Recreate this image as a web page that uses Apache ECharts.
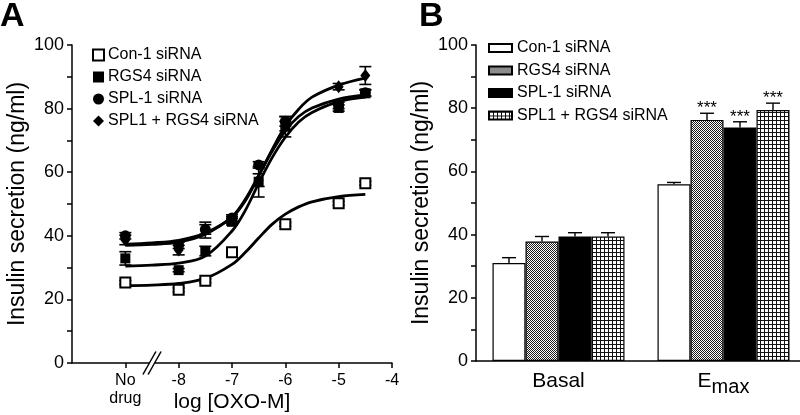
<!DOCTYPE html>
<html><head><meta charset="utf-8">
<script src="https://cdn.jsdelivr.net/npm/echarts@6/dist/echarts.min.js"></script>
<style>html,body{margin:0;padding:0;background:#fff}#c{width:800px;height:415px}</style>
</head><body><div id="c"></div>
<script>
// ---------- Panel A data ----------
const seriesNames = ['Con-1 siRNA', 'RGS4 siRNA', 'SPL-1 siRNA', 'SPL1 + RGS4 siRNA'];
const xTickValues = [-9, -8, -7, -6, -5, -4];
const xTickLabels = ['No\ndrug', '-8', '-7', '-6', '-5', '-4'];
const pointX = [-9, -8, -7.5, -7, -6.5, -6, -5, -4.5];
const con1Pts = [25.3, 23.0, 25.9, 34.8, null, 43.6, 50.2, 56.5];
const rgs4Pts = [32.9, 29.2, 35.2, 44.4, 57.0, 74.5, 80.2, 84.8];
const spl1Pts = [40.0, 37.0, 42.0, 45.6, 62.3, 76.0, 81.0, 85.0];
const comboPts = [38.7, 35.5, 41.8, 45.0, 57.5, 74.3, 86.9, 90.4];
const con1Err = [0.6, 0.6, 0.6, 0.6, null, 0.6, 0.6, 0.6];
const rgs4Err = [2.1, 0.5, 1.5, 1.0, 4.8, 1.5, 1.0, 1.0];
const spl1Err = [1.0, 1.0, 1.5, 1.0, 1.0, 1.5, 1.0, 1.0];
const comboErr = [1.5, 1.5, 2.5, 1.0, 2.0, 3.2, 1.0, 2.8];
// fitted curves
const curveX = [-9, -8.5, -8, -7.5, -7, -6.75, -6.5, -6.25, -6, -5.75, -5.5, -5, -4.5];
const con1Curve = [24.3, 24.5, 25.0, 26.6, 31.0, 34.8, 39.3, 43.6, 46.8, 49.1, 50.7, 52.3, 53.0];
const rgs4Curve = [30.5, 30.8, 31.4, 33.6, 41.5, 48.0, 56.5, 64.5, 71.0, 75.8, 78.8, 82.2, 83.6];
const spl1Curve = [37.0, 37.3, 38.0, 40.5, 46.0, 51.5, 59.0, 66.5, 73.0, 77.5, 80.2, 83.0, 84.3];
const comboCurve = [37.4, 37.8, 38.6, 40.9, 45.8, 51.0, 58.8, 67.0, 74.5, 79.8, 83.6, 87.4, 89.6];
const axisBreakX = -8.5;

// ---------- Panel B data ----------
const barCategories = ['Basal', 'Emax'];
const con1Bars = [31.0, 55.9];
const rgs4Bars = [37.8, 76.3];
const spl1Bars = [39.4, 73.9];
const comboBars = [39.4, 79.4];
const con1BarErr = [1.7, 0.6];
const rgs4BarErr = [1.6, 2.1];
const spl1BarErr = [1.2, 1.8];
const comboBarErr = [1.2, 2.2];
const barStars = [['', ''], ['', '***'], ['', '***'], ['', '***']];
const yLabelValues = [0, 20, 40, 60, 80, 100];
const yTickValues = [0, 10, 20, 30, 40, 50, 60, 70, 80, 90, 100];

const FONT = 'Liberation Sans, Arial, Helvetica, sans-serif';

function makeChecker() {
  const c = document.createElement('canvas'); c.width = 2; c.height = 2;
  const g = c.getContext('2d');
  g.fillStyle = '#ffffff'; g.fillRect(0, 0, 2, 2);
  g.fillStyle = '#1a1a1a'; g.fillRect(0, 0, 1, 1); g.fillRect(1, 1, 1, 1);
  return c;
}
function makeGrid() {
  const c = document.createElement('canvas'); c.width = 4; c.height = 4;
  const g = c.getContext('2d');
  g.fillStyle = '#ffffff'; g.fillRect(0, 0, 4, 4);
  g.fillStyle = '#111111'; g.fillRect(0, 0, 4, 1); g.fillRect(0, 0, 1, 4);
  return c;
}
const checkerFill = { image: makeChecker(), repeat: 'repeat' };
const gridFill = { image: makeGrid(), repeat: 'repeat' };

const ptsA = [con1Pts, rgs4Pts, spl1Pts, comboPts];
const errsA = [con1Err, rgs4Err, spl1Err, comboErr];
const curvesA = [con1Curve, rgs4Curve, spl1Curve, comboCurve];
const symbolsA = ['rect', 'rect', 'circle', 'diamond'];
const symSizeA = [10, 10, 11, [10, 13]];
const fillsA = ['#ffffff', '#000000', '#000000', '#000000'];

const barsB = [con1Bars, rgs4Bars, spl1Bars, comboBars];
const errsB = [con1BarErr, rgs4BarErr, spl1BarErr, comboBarErr];
const fillsB = ['#ffffff', checkerFill, '#000000', gridFill];

function renderErrA(params, api) {
  const x = api.value(0), y = api.value(1), e = api.value(2);
  if (!e) return;
  const p1 = api.coord([x, y + e]), p2 = api.coord([x, y - e]);
  const cw = 6;
  const st = { stroke: '#000', lineWidth: 1.6 };
  return { type: 'group', children: [
    { type: 'line', shape: { x1: p1[0], y1: p1[1], x2: p2[0], y2: p2[1] }, style: st },
    { type: 'line', shape: { x1: p1[0] - cw, y1: p1[1], x2: p1[0] + cw, y2: p1[1] }, style: st },
    { type: 'line', shape: { x1: p2[0] - cw, y1: p2[1], x2: p2[0] + cw, y2: p2[1] }, style: st }
  ]};
}
function renderBreak(params, api) {
  const p = api.coord([api.value(0), 0]);
  const st = { stroke: '#000', lineWidth: 1.5 };
  const dx = 6.5, dy = 11.5, off = 2.6;
  return { type: 'group', children: [
    { type: 'polygon', shape: { points: [[p[0] - off - dx, p[1] + dy], [p[0] - off + dx, p[1] - dy], [p[0] + off + dx, p[1] - dy], [p[0] + off - dx, p[1] + dy]] }, style: { fill: '#fff' } },
    { type: 'line', shape: { x1: p[0] - off - dx, y1: p[1] + dy, x2: p[0] - off + dx, y2: p[1] - dy }, style: st },
    { type: 'line', shape: { x1: p[0] + off - dx, y1: p[1] + dy, x2: p[0] + off + dx, y2: p[1] - dy }, style: st }
  ]};
}
function renderErrB(params, api) {
  const cat = api.value(0), v = api.value(1), e = api.value(2), k = api.value(3);
  const stars = barStars[k][cat];
  const band = api.size([1, 0])[0];
  const cx = api.coord([cat, 0])[0] + (k - 1.5) * 0.2 * band;
  const pb = api.coord([cat, v]), pt = api.coord([cat, v + e]);
  const cw = 7;
  const st = { stroke: '#000', lineWidth: 1.4 };
  const ch = [
    { type: 'line', shape: { x1: cx, y1: pb[1], x2: cx, y2: pt[1] }, style: st },
    { type: 'line', shape: { x1: cx - cw, y1: pt[1], x2: cx + cw, y2: pt[1] }, style: st }
  ];
  if (stars) ch.push({ type: 'text', x: cx, y: pt[1] - 13, style: { text: stars, fill: '#000', font: '17px ' + FONT, align: 'center', verticalAlign: 'top' } });
  return { type: 'group', children: ch };
}

const axisLineStyle = { lineStyle: { color: '#000', width: 1.5 } };
const axisTickStyle = { length: 5, lineStyle: { color: '#000', width: 1.5 } };

const series = [];
// Panel A curves
curvesA.forEach((cv, i) => {
  series.push({ type: 'line', name: 'fit' + i, xAxisIndex: 0, yAxisIndex: 0, smooth: 0.35, symbol: 'none',
    lineStyle: { color: '#000', width: 2.8 }, data: curveX.map((x, j) => [x, cv[j]]), z: 2, silent: true });
});
// Panel A error bars
errsA.forEach((er, i) => {
  const d = [];
  pointX.forEach((x, j) => { if (ptsA[i][j] != null) d.push([x, ptsA[i][j], er[j]]); });
  series.push({ type: 'custom', name: 'err' + i, xAxisIndex: 0, yAxisIndex: 0, renderItem: renderErrA, data: d, encode: { x: 0, y: 1 }, z: 3, silent: true });
});
// Panel A points
ptsA.forEach((p, i) => {
  const d = [];
  pointX.forEach((x, j) => { if (p[j] != null) d.push([x, p[j]]); });
  series.push({ type: 'scatter', name: seriesNames[i], xAxisIndex: 0, yAxisIndex: 0, symbol: symbolsA[i], symbolSize: symSizeA[i],
    itemStyle: { color: fillsA[i], borderColor: '#000', borderWidth: i === 0 ? 2 : 0, opacity: 1 }, data: d, z: 4 });
});
// axis break
series.push({ type: 'custom', name: 'break', xAxisIndex: 0, yAxisIndex: 0, renderItem: renderBreak, data: [[axisBreakX, 0]], encode: { x: 0, y: 1 }, z: 10, silent: true, clip: false });

// Panel B bars
barsB.forEach((b, i) => {
  series.push({ type: 'bar', name: 'B:' + seriesNames[i], xAxisIndex: 1, yAxisIndex: 1, barWidth: '20%', barGap: '0%',
    itemStyle: { color: fillsB[i], borderColor: '#000', borderWidth: 1.2 }, data: b, z: 2 });
});
const errBData = [];
errsB.forEach((er, k) => { er.forEach((e, c) => errBData.push([c, barsB[k][c], e, k])); });
series.push({ type: 'custom', name: 'errB', xAxisIndex: 1, yAxisIndex: 1, renderItem: renderErrB, data: errBData, encode: { x: 0, y: 1 }, z: 5, silent: true, clip: false });

const option = {
  animation: false,
  backgroundColor: '#fff',
  textStyle: { fontFamily: FONT, color: '#000' },
  title: [
    { text: 'A', left: 0, top: 0, padding: 0, textStyle: { fontSize: 34, fontWeight: 'bold', fontFamily: FONT, color: '#000' } },
    { text: 'B', left: 419, top: 0, padding: 0, textStyle: { fontSize: 34, fontWeight: 'bold', fontFamily: FONT, color: '#000' } }
  ],
  legend: [
    { data: seriesNames, orient: 'vertical', left: 92, top: 47, padding: 0, itemGap: 6, itemWidth: 11, itemHeight: 11,
      textStyle: { fontSize: 16, fontFamily: FONT, color: '#000', padding: [0, 0, 0, -1] }, selectedMode: false },
    { data: seriesNames.map(n => 'B:' + n), orient: 'vertical', left: 488, top: 40, padding: 0, itemGap: 6.5, itemWidth: 23, itemHeight: 8, icon: 'rect',
      formatter: n => n.slice(2), textStyle: { fontSize: 16, fontFamily: FONT, color: '#000' }, selectedMode: false }
  ],
  grid: [
    { left: 72, top: 45, width: 320, height: 318, outerBoundsMode: 'none', containLabel: false },
    { left: 476, top: 45, width: 330, height: 316, outerBoundsMode: 'none', containLabel: false }
  ],
  xAxis: [
    { type: 'value', gridIndex: 0, min: -10, max: -4, interval: 1,
      name: 'log [OXO-M]', nameLocation: 'middle', nameGap: 29, nameMoveOverlap: false, nameTextStyle: { fontSize: 21, fontFamily: FONT, color: '#000' },
      axisLine: axisLineStyle, axisTick: Object.assign({ customValues: xTickValues }, axisTickStyle),
      axisLabel: { customValues: xTickValues, formatter: v => xTickLabels[xTickValues.indexOf(v)] || '', fontSize: 16, lineHeight: 18, color: '#000', fontFamily: FONT, margin: 9, verticalAlign: 'top' },
      splitLine: { show: false } },
    { type: 'category', gridIndex: 1, data: barCategories,
      axisLine: axisLineStyle, axisTick: { alignWithLabel: true, length: 4, lineStyle: { color: '#000', width: 1.5 } },
      axisLabel: { margin: 10, color: '#000', fontFamily: FONT, fontSize: 21,
        formatter: v => v === 'Emax' ? '{e|E}{m|max}' : v,
        rich: { e: { fontSize: 21, fontFamily: FONT, color: '#000', verticalAlign: 'top', lineHeight: 26 }, m: { fontSize: 20, fontFamily: FONT, color: '#000', verticalAlign: 'bottom', lineHeight: 26 } } } }
  ],
  yAxis: [
    { type: 'value', gridIndex: 0, min: 0, max: 100, interval: 10,
      name: 'Insulin secretion (ng/ml)', nameLocation: 'middle', nameGap: 43, nameMoveOverlap: false, nameTextStyle: { fontSize: 23, fontFamily: FONT, color: '#000' },
      axisLine: { show: true, lineStyle: { color: '#000', width: 1.5 } }, axisTick: Object.assign({ show: true, customValues: yTickValues }, axisTickStyle),
      axisLabel: { customValues: yLabelValues, fontSize: 18, color: '#000', fontFamily: FONT, margin: 8 },
      splitLine: { show: false } },
    { type: 'value', gridIndex: 1, min: 0, max: 100, interval: 10,
      name: 'Insulin secretion (ng/ml)', nameLocation: 'middle', nameGap: 43, nameMoveOverlap: false, nameTextStyle: { fontSize: 23, fontFamily: FONT, color: '#000' },
      axisLine: { show: true, lineStyle: { color: '#000', width: 1.5 } }, axisTick: Object.assign({ show: true, customValues: yTickValues }, axisTickStyle),
      axisLabel: { customValues: yLabelValues, fontSize: 18, color: '#000', fontFamily: FONT, margin: 8 },
      splitLine: { show: false } }
  ],
  series: series
};
const chart = echarts.init(document.getElementById('c'), null, { renderer: 'canvas' });
chart.setOption(option);
</script></body></html>
